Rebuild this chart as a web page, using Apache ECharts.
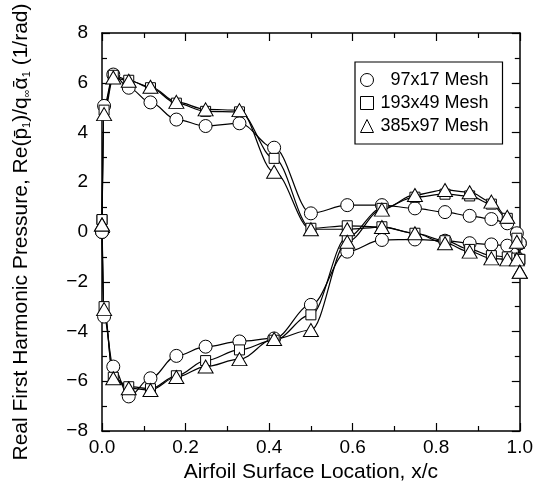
<!DOCTYPE html>
<html>
<head>
<meta charset="utf-8">
<script src="https://cdn.jsdelivr.net/npm/echarts@6/dist/echarts.min.js"></script>
<style>html,body{margin:0;padding:0;background:#fff}#c{width:536px;height:495px}</style>
</head>
<body>
<div id="c"></div>
<script>
// ---- data (x/c, Re(p1)/(q*alpha1)) ----
const seriesNames = ['97x17 Mesh', '193x49 Mesh', '385x97 Mesh'];
const xTicks = [0.0, 0.2, 0.4, 0.6, 0.8, 1.0];
const yTicks = [-8, -6, -4, -2, 0, 2, 4, 6, 8];

const circleA = [[0,0],[0.005,5.07],[0.027,6.33],[0.064,5.80],[0.116,5.21],[0.178,4.52],[0.248,4.26],[0.329,4.37],[0.412,3.39],[0.5,0.75],[0.587,1.08],[0.67,1.08],[0.749,0.95],[0.821,0.80],[0.88,0.65],[0.932,0.52],[0.97,0.35],[0.993,-0.05],[1.0,-0.45]];
const circleB = [[0,0],[0.005,-3.4],[0.027,-5.41],[0.064,-6.61],[0.116,-5.88],[0.178,-4.98],[0.248,-4.61],[0.329,-4.40],[0.412,-4.28],[0.5,-2.93],[0.587,-0.79],[0.67,-0.32],[0.749,-0.30],[0.821,-0.35],[0.88,-0.45],[0.932,-0.50],[0.97,-0.55],[1.0,-0.45]];

const squareA = [[0,0.5],[0.005,4.9],[0.027,6.3],[0.064,6.1],[0.116,5.8],[0.178,5.18],[0.248,4.85],[0.329,4.83],[0.412,2.96],[0.5,0.15],[0.587,0.25],[0.67,0.21],[0.749,-0.05],[0.821,-0.35],[0.88,-0.70],[0.932,-0.95],[0.97,-1.0],[0.993,-1.05],[1.0,-1.1]];
const squareB = [[0,0.5],[0.005,-3.0],[0.027,-5.84],[0.064,-6.22],[0.116,-6.3],[0.178,-5.78],[0.248,-5.17],[0.329,-4.74],[0.412,-4.35],[0.5,-3.33],[0.587,-0.2],[0.67,0.95],[0.749,1.4],[0.821,1.52],[0.88,1.45],[0.932,1.12],[0.97,0.55],[0.993,-0.25],[1.0,-1.1]];

const triangleA = [[0,0.3],[0.005,4.74],[0.027,6.21],[0.064,6.08],[0.116,5.84],[0.178,5.23],[0.248,4.93],[0.329,4.90],[0.412,2.42],[0.5,0.11],[0.587,0.11],[0.67,0.2],[0.749,-0.05],[0.821,-0.45],[0.88,-0.79],[0.932,-1.06],[0.97,-1.1],[0.993,-1.1],[1.0,-1.6]];
const triangleB = [[0,0.3],[0.005,-3.1],[0.027,-5.88],[0.064,-6.28],[0.116,-6.35],[0.178,-5.83],[0.248,-5.41],[0.329,-5.11],[0.412,-4.3],[0.5,-3.94],[0.587,-0.39],[0.67,0.9],[0.749,1.49],[0.821,1.69],[0.88,1.6],[0.932,1.22],[0.97,0.61],[0.993,-0.39],[1.0,-1.6]];

// ---- chart ----
const FONT = '"Liberation Sans", Arial, Helvetica, sans-serif';
const chart = echarts.init(document.getElementById('c'), null, {renderer: 'canvas'});

const groups = [
  {name: seriesNames[0], data: [circleA, circleB], symbol: 'circle', size: 13},
  {name: seriesNames[1], data: [squareA, squareB], symbol: 'rect', size: 10},
  {name: seriesNames[2], data: [triangleA, triangleB], symbol: 'triangle', size: [15, 13]}
];

const series = [];
groups.forEach(function (g) {
  g.data.forEach(function (d) {
    series.push({
      name: g.name + ' line', type: 'line', data: d, smooth: 0.35, smoothMonotone: 'x',
      showSymbol: false, symbol: 'none', clip: false, z: 2,
      lineStyle: {color: '#000', width: 1.2}, silent: true
    });
  });
});
groups.forEach(function (g) {
  g.data.forEach(function (d) {
    series.push({
      name: g.name, type: 'scatter', data: d, symbol: g.symbol, symbolSize: g.size,
      clip: false, z: 5,
      itemStyle: {color: '#fff', borderColor: '#000', borderWidth: 1, opacity: 1}
    });
  });
});

function axisCommon() {
  return {
    type: 'value',
    axisLine: {show: true, onZero: false, lineStyle: {color: '#000', width: 1.5}},
    axisTick: {show: true, inside: true, length: 8, lineStyle: {color: '#000', width: 1.2}},
    minorTick: {show: true, splitNumber: 2, length: 5, lineStyle: {color: '#000', width: 1.2}},
    splitLine: {show: false},
    minorSplitLine: {show: false}
  };
}

chart.setOption({
  backgroundColor: '#fff',
  animation: false,
  grid: {left: 102, right: 14, top: 33, bottom: 64, containLabel: false},
  legend: {
    left: 355, top: 62, orient: 'vertical',
    data: [
      {name: seriesNames[0], icon: 'circle'},
      {name: seriesNames[1], icon: 'rect'},
      {name: seriesNames[2], icon: 'triangle'}
    ],
    itemWidth: 13, itemHeight: 13, itemGap: 5,
    padding: [9, 14, 9, 5],
    borderColor: '#000', borderWidth: 1.2, borderRadius: 0,
    selectedMode: false,
    formatter: function (n) { return '{a|' + n + '}'; },
    textStyle: {
      color: '#000', fontFamily: FONT, fontSize: 18,
      rich: {a: {width: 110, align: 'right', fontSize: 18, fontFamily: FONT, color: '#000'}}
    },
    itemStyle: {color: '#fff', borderColor: '#000', borderWidth: 1}
  },
  xAxis: [
    Object.assign(axisCommon(), {
      min: 0, max: 1, interval: 0.2, position: 'bottom',
      axisLabel: {color: '#000', fontSize: 19, fontFamily: FONT, margin: 7,
        formatter: function (v) { return xTicks.some(function (t) { return Math.abs(t - v) < 1e-9; }) ? v.toFixed(1) : ''; }},
      name: 'Airfoil Surface Location, x/c', nameLocation: 'middle', nameGap: 27,
      nameTextStyle: {color: '#000', fontSize: 21, fontFamily: FONT, verticalAlign: 'top'}
    }),
    Object.assign(axisCommon(), {
      min: 0, max: 1, interval: 0.2, position: 'top', axisLabel: {show: false}
    })
  ],
  yAxis: [
    Object.assign(axisCommon(), {
      min: -8, max: 8, interval: 2, position: 'left',
      axisLabel: {color: '#000', fontSize: 19, fontFamily: FONT, margin: 14,
        formatter: function (v) { return yTicks.indexOf(v) >= 0 ? String(v).replace('-', '\u2212') : ''; }},
      name: '{t|Real First Harmonic Pressure, Re(p\u0304}{s|1}{t|)/q}{s|\u221E}{t|\u03B1\u0304}{s|1}{t| (1/rad)}',
      nameLocation: 'middle', nameGap: 70, nameRotate: 90,
      nameTextStyle: {color: '#000', fontFamily: FONT, fontSize: 21,
        rich: {
          t: {fontSize: 21, fontFamily: FONT, color: '#000'},
          s: {fontSize: 11, fontFamily: FONT, color: '#000', verticalAlign: 'bottom', padding: [7, 0, 0, 0]}
        }}
    }),
    Object.assign(axisCommon(), {
      min: -8, max: 8, interval: 2, position: 'right', axisLabel: {show: false}
    })
  ],
  series: series
});
</script>
</body>
</html>
